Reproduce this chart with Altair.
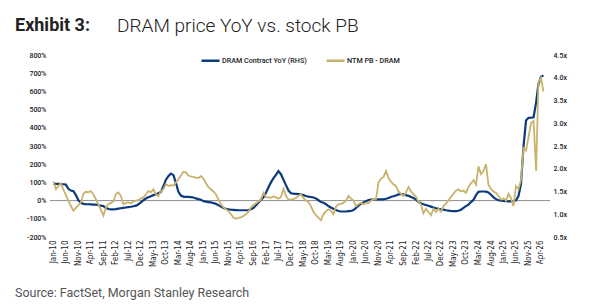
import altair as alt
import pandas as pd

# ---- data -----------------------------------------------------------------
SERIES_YOY = "DRAM Contract YoY (RHS)"
SERIES_PB = "NTM PB - DRAM"

start_month = "2010-01-01"

# DRAM contract price, YoY change in % (monthly, Jan-10 onwards)
dram_yoy = [
    93, 92, 92, 91, 90, 88, 65, 55, 52, 30, 2, -12,            # 2010
    -18, -20, -20, -21, -22, -22, -24, -28, -30, -40, -46, -48,  # 2011
    -48, -47, -44, -42, -40, -38, -36, -34, -31, -28, -20, -10,  # 2012
    2, 12, 18, 24, 30, 35, 40, 48, 80, 115, 135, 148,          # 2013
    140, 95, 50, 28, 22, 20, 20, 19, 17, 12, 8, 5,             # 2014
    -3, -6, -8, -10, -13, -18, -25, -33, -40, -45, -48, -50,   # 2015
    -51, -52, -53, -53, -53, -53, -52, -48, -40, -25, -10, 5,  # 2016
    18, 45, 72, 100, 122, 142, 162, 145, 115, 85, 55, 40,      # 2017
    38, 37, 36, 34, 30, 25, 22, 20, 17, 12, 2, -8,             # 2018
    -12, -20, -30, -38, -45, -52, -57, -60, -60, -60, -58, -57,  # 2019
    -52, -40, -28, -18, -10, -3, 3, 6, 6, 6, 7, 7,             # 2020
    7, 10, 14, 20, 24, 28, 34, 36, 35, 30, 26, 20,             # 2021
    14, 5, -8, -14, -20, -24, -28, -33, -38, -42, -45, -48,    # 2022
    -50, -53, -55, -57, -58, -58, -56, -50, -40, -30, -22, -8,  # 2023
    4, 30, 48, 50, 50, 49, 45, 32, 18, 8, 2, 0,                # 2024
    -2, -3, -4, -4, -3, 2, 25, 90, 300, 440, 455, 456,         # 2025
    458, 540, 640, 680, 688,                                   # 2026
]

# NTM price-to-book of DRAM names (x)
ntm_pb = [
    1.72, 1.55, 1.62, 1.68, 1.55, 1.42, 1.30, 1.18, 1.08, 1.14, 1.20, 1.26,  # 2010
    1.45, 1.50, 1.48, 1.51, 1.44, 1.33, 1.22, 1.10, 0.97, 1.15, 1.22, 1.25,  # 2011
    1.28, 1.45, 1.48, 1.40, 1.22, 1.25, 1.26, 1.24, 1.28, 1.30, 1.31, 1.35,  # 2012
    1.37, 1.44, 1.51, 1.48, 1.55, 1.44, 1.40, 1.51, 1.55, 1.66, 1.62, 1.64,  # 2013
    1.63, 1.70, 1.77, 1.85, 1.93, 1.92, 1.85, 1.83, 1.82, 1.80, 1.80, 1.84,  # 2014
    1.78, 1.68, 1.60, 1.55, 1.50, 1.44, 1.33, 1.22, 1.15, 1.11, 1.07, 1.00,  # 2015
    0.93, 0.90, 0.92, 0.93, 0.96, 1.00, 1.05, 1.15, 1.20, 1.24, 1.28, 1.33,  # 2016
    1.47, 1.37, 1.37, 1.36, 1.39, 1.37, 1.34, 1.38, 1.56, 1.40, 1.32, 1.32,  # 2017
    1.33, 1.36, 1.40, 1.44, 1.36, 1.30, 1.27, 1.18, 1.05, 0.98, 0.92, 0.87,  # 2018
    1.00, 1.07, 1.11, 1.08, 1.00, 1.16, 1.22, 1.23, 1.25, 1.30, 1.40, 1.35,  # 2019
    1.30, 1.18, 1.22, 1.25, 1.22, 1.25, 1.24, 1.30, 1.33, 1.33, 1.70, 1.78,  # 2020
    1.82, 1.95, 1.80, 1.72, 1.66, 1.62, 1.50, 1.45, 1.40, 1.48, 1.60, 1.50,  # 2021
    1.44, 1.38, 1.27, 1.22, 1.02, 1.12, 1.05, 0.98, 1.12, 1.05, 1.12, 1.06,  # 2022
    1.18, 1.24, 1.30, 1.38, 1.45, 1.52, 1.55, 1.50, 1.52, 1.47, 1.60, 1.68,  # 2023
    1.75, 1.65, 2.05, 1.88, 1.95, 2.10, 1.65, 1.55, 1.50, 1.47, 1.40, 1.32,  # 2024
    1.35, 1.30, 1.45, 1.35, 1.18, 1.62, 1.55, 1.75, 2.45, 2.40, 2.70, 3.00,  # 2025
    3.05, 1.95, 3.90, 4.00, 3.70,                                            # 2026
]

tick_labels = [
    "Jan-10", "Jun-10", "Nov-10", "Apr-11", "Sep-11", "Feb-12", "Jul-12", "Dec-12",
    "May-13", "Oct-13", "Mar-14", "Aug-14", "Jan-15", "Jun-15", "Nov-15", "Apr-16",
    "Sep-16", "Feb-17", "Jul-17", "Dec-17", "May-18", "Oct-18", "Mar-19", "Aug-19",
    "Jan-20", "Jun-20", "Nov-20", "Apr-21", "Sep-21", "Feb-22", "Jul-22", "Dec-22",
    "May-23", "Oct-23", "Mar-24", "Aug-24", "Jan-25", "Jun-25", "Nov-25", "Apr-26",
]

left_ticks = [-200, -100, 0, 100, 200, 300, 400, 500, 600, 700, 800]
right_ticks = [0.5, 1.0, 1.5, 2.0, 2.5, 3.0, 3.5, 4.0, 4.5]

title_bold = "Exhibit 3:"
title_rest = "DRAM price YoY vs. stock PB"
source_note = "Source: FactSet, Morgan Stanley Research"

# ---- styling --------------------------------------------------------------
BLUE = "#0b3a7e"
GOLD = "#c9b26b"
NARROW = "Liberation Sans Narrow, Arial Narrow, DejaVu Sans Condensed, sans-serif"
SMALL = "Roboto"
TEXT = "#222222"

n = len(dram_yoy)
months = pd.date_range(start_month, periods=n, freq="MS").strftime("%Y-%m-%d").tolist()
df = pd.DataFrame({
    "month": months * 2,
    "series": [SERIES_YOY] * n + [SERIES_PB] * len(ntm_pb),
    "value": dram_yoy + ntm_pb,
})

tick_dates = pd.to_datetime(tick_labels, format="%b-%y")
tick_values = [alt.DateTime(year=int(d.year), month=int(d.month), date=1, utc=True) for d in tick_dates]

x_enc = alt.X(
    "month:T",
    title=None,
    scale=alt.Scale(
        type="utc",
        domain=[alt.DateTime(year=2009, month=11, date=20, utc=True),
                alt.DateTime(year=2026, month=7, date=20, utc=True)],
    ),
    axis=alt.Axis(
        values=tick_values,
        labelExpr="utcFormat(datum.value, '%b-%y')",
        labelAngle=-90,
        labelFont=NARROW,
        labelFontSize=8,
        labelColor=TEXT,
        labelPadding=3,
        ticks=False,
        domain=False,
        grid=False,
        labelOverlap=False,
    ),
)

# left (percent) scale, shared by the YoY line and the 0% reference rule
y_left = alt.Y(
    "value:Q",
    title=None,
    scale=alt.Scale(domain=[-200, 800], nice=False, zero=False),
    axis=alt.Axis(
        orient="left",
        values=left_ticks,
        labelExpr="datum.value + '%'",
        labelFont=SMALL,
        labelFontSize=7,
        labelFontWeight=500,
        labelColor=TEXT,
        labelPadding=4,
        labelOverlap=False,
        ticks=False,
        domain=False,
        grid=False,
    ),
)

y_right = alt.Y(
    "value:Q",
    title=None,
    scale=alt.Scale(domain=[0.5, 4.5], nice=False, zero=False),
    axis=alt.Axis(
        orient="right",
        values=right_ticks,
        labelExpr="format(datum.value, '.1f') + 'x'",
        labelFont=SMALL,
        labelFontSize=7,
        labelFontWeight=500,
        labelColor=TEXT,
        labelPadding=3,
        labelOverlap=False,
        ticks=False,
        domain=False,
        grid=False,
    ),
)

color_enc = alt.Color(
    "series:N",
    scale=alt.Scale(domain=[SERIES_YOY, SERIES_PB], range=[BLUE, GOLD]),
    legend=alt.Legend(
        title=None,
        orient="none",
        legendX=150,
        legendY=-5,
        direction="horizontal",
        symbolType="stroke",
        symbolSize=324,
        symbolStrokeWidth=2.5,
        labelFont=SMALL,
        labelFontSize=7.2,
        labelFontWeight=500,
        labelColor=TEXT,
        labelOffset=1,
        columnPadding=14,
    ),
)

base = alt.Chart(df)

yoy_line = base.transform_filter(alt.datum.series == SERIES_YOY).mark_line(
    strokeWidth=2.2
).encode(x=x_enc, y=y_left, color=color_enc)

zero_line = alt.Chart(pd.DataFrame({"value": [0]})).mark_rule(
    color="#8f8f8f", strokeWidth=1
).encode(y=y_left)

pb_line = base.transform_filter(alt.datum.series == SERIES_PB).mark_line(
    strokeWidth=1.8
).encode(x=x_enc, y=y_right, color=color_enc)

heading_bold = alt.Chart(pd.DataFrame({"t": [title_bold]})).mark_text(
    align="left", baseline="middle", font="Roboto", fontSize=18, fontWeight="bold", color=TEXT
).encode(text="t:N", x=alt.value(-35), y=alt.value(-29))

heading_rest = alt.Chart(pd.DataFrame({"t": [title_rest]})).mark_text(
    align="left", baseline="middle", font="Roboto", fontSize=19, fontWeight=300, color=TEXT
).encode(text="t:N", x=alt.value(67), y=alt.value(-29))

source = alt.Chart(pd.DataFrame({"t": [source_note]})).mark_text(
    align="left", baseline="middle", font="Roboto", fontSize=12.5, color="#555555"
).encode(text="t:N", x=alt.value(-35), y=alt.value(238))

left_layer = alt.layer(zero_line, yoy_line)

chart = alt.layer(
    left_layer, pb_line, heading_bold, heading_rest, source
).resolve_scale(
    y="independent"
).properties(
    width=500,
    height=182,
    autosize=alt.AutoSizeParams(type="none"),
    padding={"left": 50, "top": 55, "right": 50, "bottom": 70},
    background="white",
).configure_view(
    stroke=None
)

chart.save("out.html", embed_options={"renderer": "svg", "actions": False})
